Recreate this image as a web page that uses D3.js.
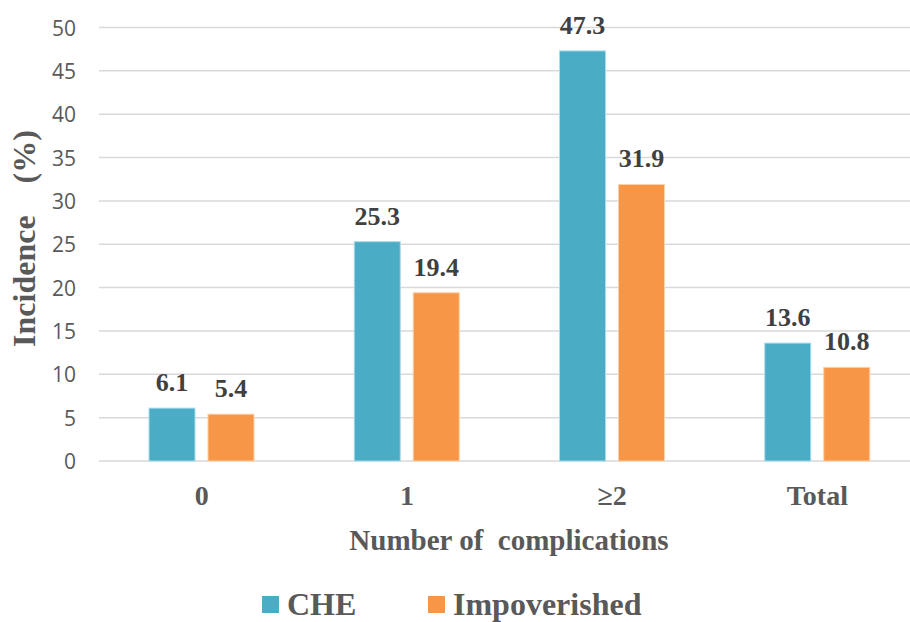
<!DOCTYPE html>
<html><head><meta charset="utf-8">
<script src="https://cdn.jsdelivr.net/npm/d3@7"></script>
<style>body{margin:0;background:#fff}
.serif{font-family:"Liberation Serif","Times New Roman","DejaVu Serif",serif;font-weight:bold}
.sans{font-family:"Open Sans",sans-serif}
</style>
</head><body>
<svg id="c" width="910" height="622"></svg>
<script>
const categories = ["0", "1", "\u22652", "Total"];
const seriesNames = ["CHE", "Impoverished"];
const cheValues = [6.1, 25.3, 47.3, 13.6];
const impValues = [5.4, 19.4, 31.9, 10.8];
const yTicks = [0, 5, 10, 15, 20, 25, 30, 35, 40, 45, 50];
const colors = ["#4BACC6", "#F79646"];

const svg = d3.select("#c");
const y = d3.scaleLinear().domain([0, 50]).range([461, 27.5]);
const x0 = d3.scaleBand().domain(categories).range([99, 920]);
const x1 = d3.scaleBand().domain(seriesNames).range([50, 155]).paddingInner(13/59);

// gridlines
svg.append("g").selectAll("line").data(yTicks).join("line")
  .attr("x1", 99).attr("x2", 910)
  .attr("y1", d => y(d)).attr("y2", d => y(d))
  .attr("stroke", "#d9d9d9").attr("stroke-width", 1.5);

// y axis labels
const yAxis = d3.axisLeft(y).tickValues(yTicks).tickSize(0).tickPadding(0);
const ga = svg.append("g").attr("transform", "translate(76,0)").call(yAxis);
ga.select(".domain").remove();
ga.attr("font-family", null).attr("font-size", null);
ga.selectAll("text").attr("class", "sans").style("font-size", "21px")
  .attr("fill", "#595959").attr("dy", "0.36em");

const data = categories.map((c, i) => ({c, vals: [cheValues[i], impValues[i]]}));
const g = svg.append("g").selectAll("g").data(data).join("g")
  .attr("transform", d => `translate(${x0(d.c)},0)`);
g.selectAll("rect").data(d => d.vals.map((v, j) => ({s: seriesNames[j], v, j}))).join("rect")
  .attr("x", d => x1(d.s)).attr("width", x1.bandwidth())
  .attr("y", d => y(d.v)).attr("height", d => y(0) - y(d.v))
  .attr("fill", d => colors[d.j])
  .attr("stroke", d => d.j === 0 ? "#a8dcea" : "#fcd0a8").attr("stroke-width", 1);
g.selectAll("text").data(d => d.vals.map((v, j) => ({s: seriesNames[j], v, j}))).join("text")
  .attr("class", "serif")
  .attr("x", d => x1(d.s) + x1.bandwidth()/2).attr("y", d => y(d.v) - 17)
  .attr("text-anchor", "middle").style("font-size", "26px")
  .attr("fill", "#404040").text(d => d.v.toFixed(1));

// x category labels
const xAxis = d3.axisBottom(x0).tickSize(0).tickPadding(0);
const gx = svg.append("g").attr("transform", "translate(0,505)").call(xAxis);
gx.select(".domain").remove();
gx.attr("font-family", null).attr("font-size", null);
gx.selectAll("text").attr("class", "serif").style("font-size", "28px")
  .attr("fill", "#595959").attr("dy", 0);

// x title
svg.append("text").attr("class", "serif").attr("x", 509).attr("y", 550).attr("text-anchor", "middle")
  .style("font-size", "29px").attr("fill", "#595959").style("white-space", "pre")
  .text("Number of  complications");

// y title
svg.append("text").attr("class", "serif").attr("transform", "translate(35,238.5) rotate(-90)")
  .attr("text-anchor", "middle").style("font-size", "32px")
  .attr("fill", "#595959").style("white-space", "pre").text("Incidence    (%)");

// legend
const legX = [262, 428];
const lg = svg.append("g").selectAll("g").data(seriesNames).join("g")
  .attr("transform", (d, i) => `translate(${legX[i]},596)`);
lg.append("rect").attr("width", 17).attr("height", 17).attr("fill", (d, i) => colors[i]);
lg.append("text").attr("class", "serif").attr("x", 25).attr("y", 19)
  .style("font-size", "32px").attr("fill", "#595959").text(d => d);
</script>
</body></html>
